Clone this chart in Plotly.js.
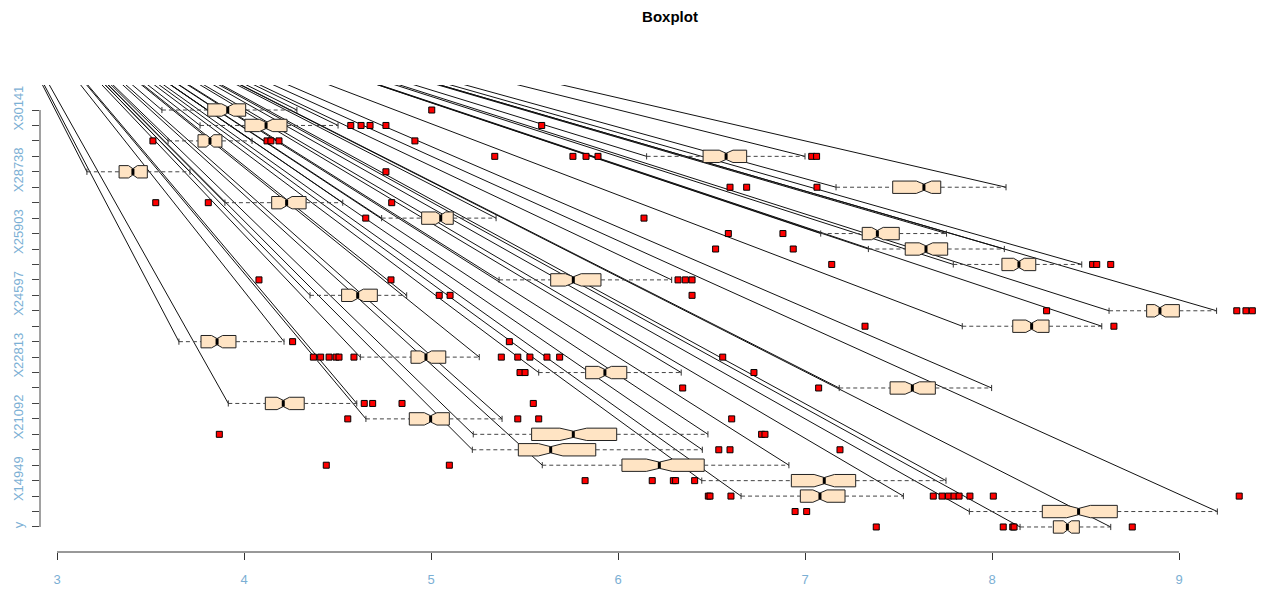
<!DOCTYPE html>
<html>
<head>
<meta charset="utf-8">
<script src="https://cdn.plot.ly/plotly-3.0.1.min.js"></script>
<style>html,body{margin:0;padding:0;background:#fff;}#chart{width:1269px;height:590px;}</style>
</head>
<body>
<div id="chart"></div>
<script>
// ---- data (row 1 = bottom) ----
const rowLabels = ['y','','','X14949','','','','X21092','','','','X22813','','','','X24597','','','','X25903','','','','X28738','','','','X30141'];
const lowerWhisker = [8.150,7.879,6.658,6.448,5.595,5.221,5.226,4.652,3.916,7.183,5.576,4.622,3.652,7.841,8.626,4.353,5.364,7.793,7.339,7.084,4.736,3.898,7.166,3.160,6.153,3.594,3.765,3.561];
const q1 = [8.328,8.269,6.975,6.927,6.021,5.467,5.538,4.884,4.114,7.455,5.827,4.893,3.770,8.111,8.827,4.522,5.640,8.053,7.536,7.306,4.950,4.148,7.469,3.332,6.455,3.754,4.005,3.806];
const median = [8.403,8.463,7.080,7.103,6.221,5.640,5.761,4.998,4.210,7.574,5.930,4.973,3.856,8.212,8.898,4.608,5.761,8.144,7.647,7.387,5.052,4.228,7.636,3.406,6.578,3.818,4.118,3.913];
const q3 = [8.467,8.670,7.214,7.271,6.461,5.881,5.993,5.098,4.322,7.697,6.047,5.079,3.957,8.305,9.002,4.713,5.909,8.234,7.763,7.504,5.119,4.332,7.726,3.483,6.688,3.882,4.230,4.009];
const upperWhisker = [8.635,9.205,7.526,7.754,6.914,6.451,6.481,5.380,4.603,7.998,6.338,5.258,4.214,8.587,9.201,4.870,6.287,8.480,8.066,7.757,5.348,4.528,8.075,3.711,7.000,4.043,4.503,4.283];
const outliers = [
  [7.381,8.060,8.111,8.118,8.750],
  [6.947,7.009],
  [6.483,6.492,6.604,7.686,7.733,7.767,7.797,7.824,7.882,8.007,9.322],
  [5.824,6.183,6.296,6.308,6.410],
  [4.440,5.098],
  [6.539,6.599,7.187],
  [3.868,6.768,6.786],
  [4.555,5.464,5.576,6.608],
  [4.643,4.688,4.845,5.547],
  [6.346,7.073],
  [5.476,5.503,6.727],
  [4.371,4.410,4.455,4.492,4.508,4.588,5.376,5.464,5.529,5.620,5.688,6.560],
  [4.260,5.419],
  [7.321,8.652],
  [8.292,9.309,9.358,9.392],
  [5.044,5.102,6.396],
  [4.080,4.786,6.321,6.360,6.396],
  [7.143,8.538,8.560,8.635],
  [6.522,6.937],
  [6.590,6.882],
  [4.651,6.139],
  [3.528,3.809,4.790],
  [6.599,6.688,7.064],
  [4.759],
  [5.341,5.759,5.829,5.893,7.036,7.062],
  [3.513,4.123,4.144,4.187,4.914],
  [4.571,4.626,4.674,4.759,5.592],
  [5.004]
];
const sampleSize = 100;           // per-column n used for notch size (R: 1.58*IQR/sqrt(n))
const lineOrigin = [2.551, 38.42]; // common start point of the solid rays (data units)
const xTicks = [3,4,5,6,7,8,9];

// ---- derived ----
const rows = rowLabels.map((_, i) => i + 1);
const notchspan = q1.map((v, i) => 1.58 * (q3[i] - v) / Math.sqrt(sampleSize));
const half = 0.2;

const rayX = [], rayY = [];
const whX = [], whY = [];
const capX = [], capY = [];
const medX = [], medY = [];
const outX = [], outY = [];
rows.forEach((r, i) => {
  [lowerWhisker[i], upperWhisker[i]].forEach(w => {
    rayX.push(lineOrigin[0], w, null); rayY.push(lineOrigin[1], r, null);
    capX.push(w, w, null); capY.push(r - half, r + half, null);
  });
  whX.push(lowerWhisker[i], q1[i], null, q3[i], upperWhisker[i], null);
  whY.push(r, r, null, r, r, null);
  medX.push(median[i], median[i], null); medY.push(r - half, r + half, null);
  outliers[i].forEach(v => { outX.push(v); outY.push(r); });
});

const font = 'Liberation Sans, Arial, Helvetica, sans-serif';
const tickBlue = '#7BAFD4';
const xRange = [3 - 17/187, 3 + (1269 - 57)/187];
const yRange = [-0.62, 29.62];

const traces = [
  {type:'scatter', mode:'lines', x:rayX, y:rayY, xaxis:'x', yaxis:'y',
   line:{color:'#111', width:1}, hoverinfo:'skip', connectgaps:false},
  {type:'scatter', mode:'lines', x:whX, y:whY, xaxis:'x', yaxis:'y2',
   line:{color:'#444', width:1, dash:'4px,3px'}, hoverinfo:'skip'},
  {type:'scatter', mode:'lines', x:capX, y:capY, xaxis:'x', yaxis:'y2',
   line:{color:'#333', width:1}, hoverinfo:'skip'},
  {type:'box', orientation:'h', xaxis:'x', yaxis:'y2', y:rows,
   q1:q1, median:median, q3:q3, lowerfence:q1, upperfence:q3, notchspan:notchspan,
   notched:true, notchwidth:0.25, width:0.8, whiskerwidth:0, boxpoints:false,
   fillcolor:'#FFE4C4', line:{color:'#222', width:1}, hoverinfo:'skip'},
  {type:'scatter', mode:'lines', x:medX, y:medY, xaxis:'x', yaxis:'y2',
   line:{color:'#000', width:3}, hoverinfo:'skip'},
  {type:'scatter', mode:'markers', x:outX, y:outY, xaxis:'x', yaxis:'y2',
   marker:{symbol:'square', size:6, color:'#FF0000', line:{color:'#000', width:1}}, hoverinfo:'skip'}
];

const layout = {
  width:1269, height:590, autosize:false,
  margin:{l:40, r:0, t:85, b:38, pad:0},
  paper_bgcolor:'#fff', plot_bgcolor:'#fff', showlegend:false,
  title:{text:'Boxplot', font:{family:font, size:15, color:'#000', weight:'bold'},
         x:670/1269, xref:'container', xanchor:'center', y:1 - 17/590, yref:'container', yanchor:'middle'},
  xaxis:{range:xRange, showgrid:false, zeroline:false, showline:false, automargin:false,
         ticks:'outside', ticklen:7, tickwidth:1, tickcolor:'#333',
         tickmode:'array', tickvals:xTicks, ticktext:xTicks.map(String),
         tickfont:{family:font, size:13, color:tickBlue}, ticklabelstandoff:8, fixedrange:true},
  yaxis:{range:yRange, showgrid:false, zeroline:false, showline:false, automargin:false,
         ticks:'outside', ticklen:7, tickwidth:1, tickcolor:'#444',
         tickmode:'array', tickvals:rows, ticktext:rowLabels, tickangle:-90,
         tickfont:{family:font, size:13, color:tickBlue}, ticklabelstandoff:4, fixedrange:true},
  yaxis2:{range:yRange, overlaying:'y', visible:false, fixedrange:true},
  shapes:[
    {type:'line', xref:'x', yref:'paper', x0:xTicks[0], x1:xTicks[xTicks.length-1], y0:0, y1:0, line:{color:'#333', width:1}},
    {type:'line', xref:'paper', yref:'y', x0:0, x1:0, y0:rows[0], y1:rows[rows.length-1], line:{color:'#444', width:1}}
  ]
};

Plotly.newPlot('chart', traces, layout, {staticPlot:true, displayModeBar:false});
</script>
</body>
</html>
